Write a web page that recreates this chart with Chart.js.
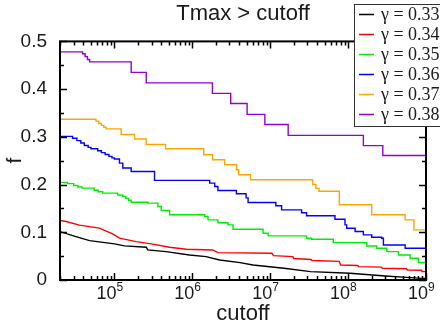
<!DOCTYPE html>
<html>
<head>
<meta charset="utf-8">
<script src="https://cdn.jsdelivr.net/npm/chart.js@4.4.0/dist/chart.umd.min.js"></script>
<style>
  html, body { margin: 0; padding: 0; background: #fff; }
</style>
</head>
<body>
<canvas id="chart" width="440" height="327"></canvas>
<script>
// values (cutoff, fraction f)
const gammas = ['0.33', '0.34', '0.35', '0.36', '0.37', '0.38'];
const colors = ['#000000', '#ff0000', '#00ee00', '#0000ff', '#ffa500', '#9400d3'];

// gamma = 0.33 and 0.34: drawn as plain polylines
const cut33 = [2e4, 3.2e4, 4.8e4, 1e5, 1.35e5, 2.56e5, 2.68e5, 4.6e5, 9.2e5, 1.5e6, 2.24e6, 4.1e6, 6.0e6, 1.5e7, 3.3e7, 1.06e8, 3.0e8, 5.7e8, 8.8e8, 1e9];
const f33 = [0.1015, 0.091, 0.0826, 0.0756, 0.0714, 0.0687, 0.063, 0.0595, 0.0525, 0.049, 0.042, 0.0364, 0.0315, 0.0245, 0.0175, 0.014, 0.0084, 0.0056, 0.0035, 0.0035];

const cut34 = [2e4, 2.4e4, 3.55e4, 6.4e4, 9.5e4, 1.16e5, 1.9e5, 2.97e5, 5.1e5, 8.4e5, 1.82e6, 2.13e6, 1.05e7, 1.1e7, 1.95e7, 2.0e7, 3.35e7, 3.45e7, 7.7e7, 8.0e7, 1.33e8, 1.37e8, 2.68e8, 2.75e8, 5.6e8, 5.75e8, 8.8e8, 8.9e8, 1e9];
const f34 = [0.1246, 0.1225, 0.115, 0.1086, 0.0966, 0.0876, 0.0805, 0.0756, 0.0687, 0.0644, 0.063, 0.0574, 0.056, 0.051, 0.049, 0.045, 0.043, 0.041, 0.039, 0.0315, 0.0305, 0.028, 0.027, 0.0245, 0.0235, 0.021, 0.0205, 0.0175, 0.0175];

// gamma = 0.35 .. 0.38: step functions, f[i] holds from cut[i] up to cut[i+1]
const cut35 = [2e4, 2.5e4, 3.0e4, 3.4e4, 3.84e4, 5.5e4, 6.2e4, 7.07e4, 1.1e5, 1.28e5, 1.4e5, 1.52e5, 1.64e5, 2.68e5, 3.61e5, 3.99e5, 5.1e5, 1.44e6, 1.59e6, 2.13e6, 2.87e6, 3.33e6, 8.1e6, 9.4e6, 2.93e7, 3.4e7, 6.45e7, 1.73e8, 2.33e8, 3.14e8, 4.43e8, 6.26e8, 8e8, 1e9];
const f35 = [0.2045, 0.202, 0.198, 0.195, 0.1926, 0.188, 0.185, 0.182, 0.178, 0.175, 0.171, 0.167, 0.163, 0.161, 0.154, 0.1456, 0.1366, 0.133, 0.126, 0.12, 0.1155, 0.1065, 0.098, 0.0924, 0.0876, 0.0855, 0.0784, 0.0714, 0.0665, 0.0595, 0.0525, 0.0455, 0.0364, 0.0364];

const cut36 = [2e4, 2.9e4, 3.3e4, 3.7e4, 4.1e4, 4.6e4, 5.0e4, 6.1e4, 6.8e4, 7.6e4, 8.5e4, 9.3e4, 1e5, 1.16e5, 1.28e5, 1.64e5, 3.27e5, 1.67e6, 1.94e6, 2.13e6, 3.68e6, 4.9e6, 5.2e6, 1.18e7, 1.4e7, 2.53e7, 2.93e7, 6.78e7, 9.12e7, 9.59e7, 1.23e8, 1.57e8, 2.01e8, 2.7e8, 2.84e8, 5.4e8, 1e9];
const f36 = [0.301, 0.297, 0.292, 0.287, 0.282, 0.278, 0.275, 0.271, 0.267, 0.263, 0.259, 0.256, 0.2535, 0.245, 0.2346, 0.2275, 0.2087, 0.203, 0.196, 0.1877, 0.1807, 0.172, 0.1624, 0.1555, 0.147, 0.141, 0.1345, 0.1274, 0.1155, 0.1086, 0.1015, 0.0945, 0.0897, 0.0876, 0.0735, 0.0665, 0.0665];

const cut37 = [2e4, 5.8e4, 6.3e4, 6.8e4, 7.3e4, 7.8e4, 1.22e5, 1.81e5, 2.56e5, 4.53e5, 1.40e6, 1.82e6, 2.60e6, 3.7e6, 3.94e6, 5.58e6, 3.5e7, 3.86e7, 4.22e7, 7.71e7, 2.01e8, 5.4e8, 7.0e8, 1e9];
const f37 = [0.337, 0.333, 0.328, 0.324, 0.320, 0.3166, 0.305, 0.2955, 0.284, 0.275, 0.2626, 0.252, 0.2416, 0.231, 0.2206, 0.21, 0.2, 0.192, 0.186, 0.1576, 0.1366, 0.126, 0.105, 0.105];

const cut38 = [2e4, 3.9e4, 4.2e4, 4.5e4, 4.8e4, 1.64e5, 2.56e5, 1.81e6, 3.11e6, 5.05e6, 8.53e6, 1.70e7, 1.57e8, 2.79e8, 1e9];
const f38 = [0.478, 0.474, 0.468, 0.462, 0.457, 0.435, 0.413, 0.391, 0.370, 0.347, 0.326, 0.303, 0.2815, 0.261, 0.261];

const yTicks = [0, 0.1, 0.2, 0.3, 0.4, 0.5];
const xDecades = [5, 6, 7, 8, 9];

// Chart.js 'before' = horizontal first, then the vertical drop
const series = [
  [cut33, f33, false], [cut34, f34, false], [cut35, f35, 'before'],
  [cut36, f36, 'before'], [cut37, f37, 'before'], [cut38, f38, 'before']
];

const sansFont = "'Liberation Sans', Arial, Helvetica, sans-serif";
const serifFont = "'Liberation Serif', 'Times New Roman', serif";
const textColor = '#1a1a1a';

const datasets = series.map(([xs, ys, stepped], i) => ({
  label: 'γ = ' + gammas[i],
  data: xs.map((x, j) => ({ x: x, y: ys[j] })),
  borderColor: colors[i],
  borderWidth: 1.4,
  pointRadius: 0,
  fill: false,
  tension: 0,
  stepped: stepped
}));

// box, inward ticks, power-of-ten labels and the boxed legend
const framePlugin = {
  id: 'frame',
  afterDraw(chart) {
    const ctx = chart.ctx;
    const area = chart.chartArea;
    const xs = chart.scales.x;
    const ys = chart.scales.y;
    ctx.save();
    ctx.strokeStyle = '#000';
    ctx.lineWidth = 2;
    ctx.strokeRect(area.left, area.top, area.right - area.left, area.bottom - area.top);

    ctx.lineWidth = 1.5;
    ctx.beginPath();
    for (let k = 4; k <= 9; k++) {
      for (let m = 1; m <= 9; m++) {
        const v = m * Math.pow(10, k);
        if (v < xs.min || v > xs.max) continue;
        const px = Math.round(xs.getPixelForValue(v)) + 0.5;
        const len = m === 1 ? 7 : 4;
        ctx.moveTo(px, area.bottom); ctx.lineTo(px, area.bottom - len);
        ctx.moveTo(px, area.top); ctx.lineTo(px, area.top + len);
      }
    }
    for (let i = 0; i <= 10; i++) {
      const v = i * 0.05;
      const py = Math.round(ys.getPixelForValue(v)) + 0.5;
      const len = i % 2 === 0 ? 7 : 4;
      ctx.moveTo(area.left, py); ctx.lineTo(area.left + len, py);
      ctx.moveTo(area.right, py); ctx.lineTo(area.right - len, py);
    }
    ctx.stroke();

    ctx.fillStyle = textColor;
    ctx.textBaseline = 'alphabetic';
    xDecades.forEach(e => {
      const px = xs.getPixelForValue(Math.pow(10, e)) + 2;
      ctx.font = '18px ' + sansFont;
      ctx.textAlign = 'right';
      ctx.fillText('10', px, 299);
      ctx.font = '12px ' + sansFont;
      ctx.textAlign = 'left';
      ctx.fillText(String(e), px, 291);
    });

    // legend
    const lx = 354.5, ly = 4.5;
    ctx.fillStyle = '#fff';
    ctx.fillRect(lx, ly, 100, 122);
    ctx.strokeStyle = '#333';
    ctx.lineWidth = 1;
    ctx.strokeRect(lx, ly, 100, 122);
    ctx.font = '18px ' + serifFont;
    ctx.textAlign = 'left';
    ctx.textBaseline = 'middle';
    chart.data.datasets.forEach((ds, i) => {
      const y = 14.5 + i * 20;
      ctx.strokeStyle = ds.borderColor;
      ctx.lineWidth = 1.5;
      ctx.beginPath();
      ctx.moveTo(359, y); ctx.lineTo(374, y);
      ctx.stroke();
      ctx.fillStyle = textColor;
      ctx.fillText(ds.label, 381, y + 1);
    });
    ctx.restore();
  }
};

new Chart(document.getElementById('chart'), {
  type: 'line',
  data: { datasets: datasets },
  options: {
    responsive: false,
    animation: false,
    layout: { padding: { left: 0, right: 14, top: 0, bottom: 0 } },
    plugins: {
      legend: { display: false },
      tooltip: { enabled: false },
      title: {
        display: true,
        text: 'Tmax > cutoff',
        fullSize: false,
        color: textColor,
        font: { family: sansFont, size: 22, weight: 'normal' },
        padding: { top: 1, bottom: 14 }
      }
    },
    scales: {
      x: {
        type: 'logarithmic',
        min: 2e4,
        max: 1e9,
        grid: { display: false },
        border: { display: false },
        ticks: { display: false },
        title: {
          display: true,
          text: 'cutoff',
          color: textColor,
          font: { family: sansFont, size: 22 },
          padding: { top: 2, bottom: 0 }
        },
        afterFit: s => { s.height = 47; }
      },
      y: {
        min: 0,
        max: 0.5,
        grid: { display: false },
        border: { display: false },
        afterBuildTicks: s => { s.ticks = yTicks.map(v => ({ value: v })); },
        ticks: {
          color: textColor,
          padding: 5,
          font: { family: sansFont, size: 19 },
          callback: v => v === 0 ? '0' : v.toFixed(1)
        },
        title: {
          display: true,
          text: 'f',
          color: textColor,
          font: { family: sansFont, size: 21 },
          padding: { top: 3, bottom: 0 }
        },
        afterFit: s => { s.width = 60; }
      }
    }
  },
  plugins: [framePlugin]
});
</script>
</body>
</html>
